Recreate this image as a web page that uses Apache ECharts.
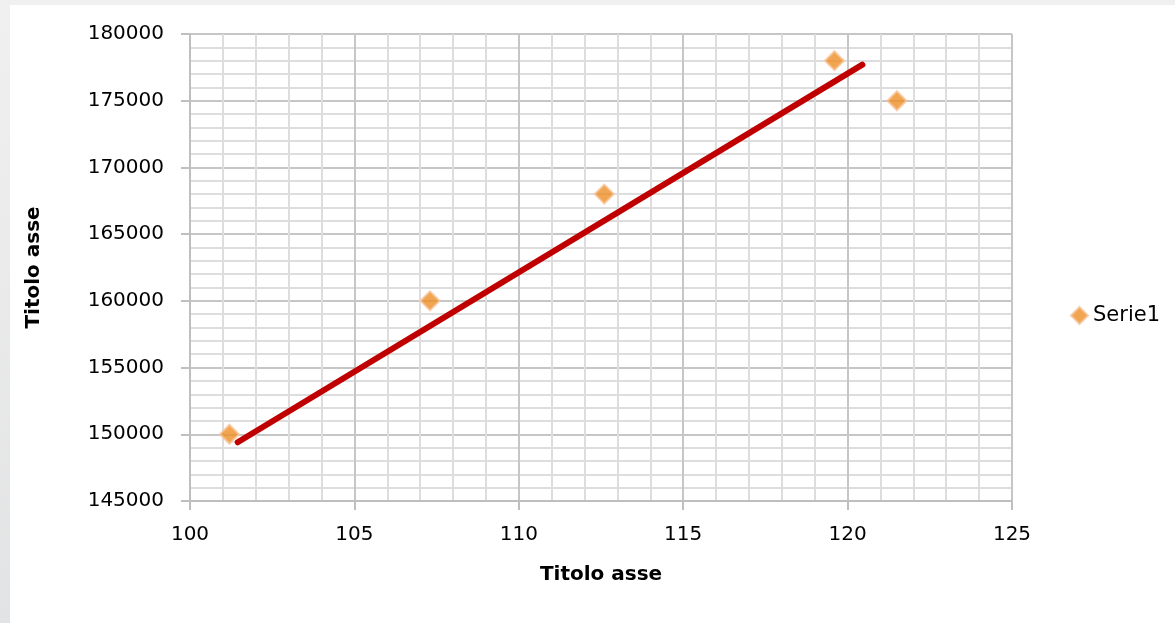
<!DOCTYPE html>
<html>
<head>
<meta charset="utf-8">
<script src="https://cdn.jsdelivr.net/npm/echarts@6/dist/echarts.min.js"></script>
<style>
html,body{margin:0;padding:0;width:1175px;height:623px;overflow:hidden;background:linear-gradient(#f0f0f0,#e2e3e4);}
#c{position:absolute;left:10px;top:5px;width:1165px;height:618px;background:#ffffff;}
</style>
</head>
<body>
<div id="c"></div>
<script>
// Data
const seriesName = 'Serie1';
const xValues = [101.2, 107.3, 112.6, 119.6, 121.5];
const yValues = [150000, 160000, 168000, 178000, 175000];
const trendX = [101.45, 120.45];
const trendY = [149400, 177700];
const xTitle = 'Titolo asse';
const yTitle = 'Titolo asse';

const points = xValues.map((x, i) => [x, yValues[i]]);
const trend = trendX.map((x, i) => [x, trendY[i]]);

const font = 'DejaVu Sans';
const chart = echarts.init(document.getElementById('c'), null, {renderer: 'canvas'});
chart.setOption({
  animation: false,
  backgroundColor: '#ffffff',
  grid: {left: 180, top: 29, right: 163, bottom: 122, containLabel: false},
  legend: {
    data: [{name: seriesName, icon: 'diamond'}],
    right: 10, orient: 'vertical',
    itemWidth: 17, itemHeight: 17, itemGap: 8,
    textStyle: {fontFamily: font, fontSize: 21, color: '#000'},
    top: 295
  },
  xAxis: {
    type: 'value', min: 100, max: 125, interval: 5,
    name: xTitle, nameLocation: 'middle', nameGap: 64,
    nameTextStyle: {fontFamily: font, fontSize: 20, fontWeight: 'bold', color: '#000'},
    axisLine: {show: true, lineStyle: {color: '#bfbfbf', width: 2}},
    axisTick: {show: true, length: 9, lineStyle: {color: '#bfbfbf', width: 2}},
    axisLabel: {fontFamily: font, fontSize: 20, color: '#000', margin: 24, formatter: v => String(v)},
    splitLine: {show: true, lineStyle: {color: '#c6c6c6', width: 2}},
    minorTick: {show: false, splitNumber: 5},
    minorSplitLine: {show: true, lineStyle: {color: '#dddddd', width: 2}}
  },
  yAxis: {
    type: 'value', min: 145000, max: 180000, interval: 5000,
    name: yTitle, nameLocation: 'middle', nameGap: 146, nameRotate: 90,
    nameTextStyle: {fontFamily: font, fontSize: 20, fontWeight: 'bold', color: '#000'},
    axisLine: {show: true, lineStyle: {color: '#bfbfbf', width: 2}},
    axisTick: {show: true, length: 9, lineStyle: {color: '#bfbfbf', width: 2}},
    axisLabel: {fontFamily: font, fontSize: 20, color: '#000', margin: 26, formatter: v => String(v)},
    splitLine: {show: true, lineStyle: {color: '#c6c6c6', width: 2}},
    minorTick: {show: false, splitNumber: 5},
    minorSplitLine: {show: true, lineStyle: {color: '#dddddd', width: 2}}
  },
  series: [
    {
      name: 'trend', type: 'line', data: trend, showSymbol: false, symbol: 'none',
      lineStyle: {color: '#c00000', width: 6, cap: 'round'}, z: 3, silent: true
    },
    {
      name: seriesName, type: 'scatter', data: points, symbol: 'diamond', symbolSize: 19,
      itemStyle: {color: '#ee8e26', borderColor: '#f6c49a', borderWidth: 2}, z: 4
    }
  ]
});
</script>
</body>
</html>
